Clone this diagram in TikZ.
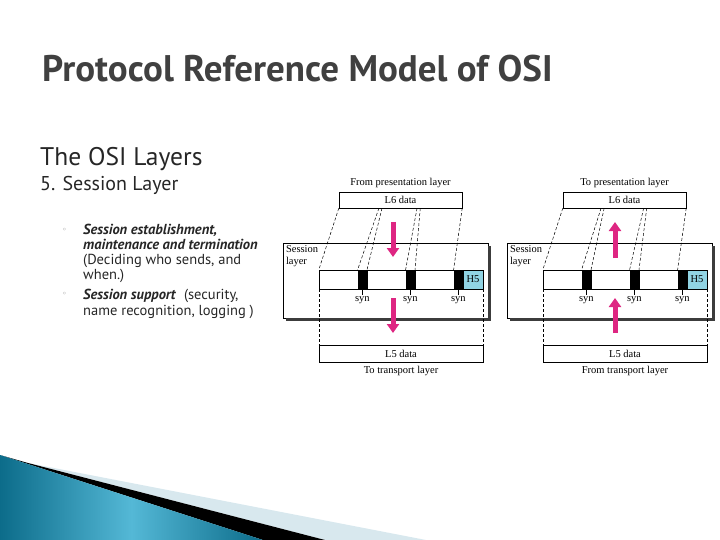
\documentclass[tikz,border=0pt]{standalone}
\usepackage{fontspec}
\usepackage{xcolor}
\usepackage{tikz}
\usetikzlibrary{arrows.meta, positioning, calc}
\newfontfamily\slidefont{PT Sans}
\newfontfamily\figfont{Liberation Serif}
\newfontfamily\bulletfont{DejaVu Sans}
\definecolor{titleGray}{RGB}{64, 64, 64}
\definecolor{arrowPink}{RGB}{222, 38, 130}
\definecolor{headerCyan}{RGB}{145, 212, 228}
\definecolor{shadowGray}{RGB}{60, 60, 60}
\definecolor{tealDark}{RGB}{12, 108, 138}
\definecolor{tealLight}{RGB}{84, 184, 214}
\definecolor{paleBlue}{RGB}{216, 232, 238}

\begin{document}
\begin{tikzpicture}[
    x=1pt, y=-1pt,
    figlabel/.style={inner sep=1pt, font=\figfont\fontsize{10.5}{11.5}\selectfont},
    databox/.style={draw, fill=white, minimum width=164pt, minimum height=17pt, inner sep=0pt, font=\figfont\fontsize{10.5}{11.5}\selectfont},
    sessbox/.style={draw, fill=white, minimum width=205pt, minimum height=75pt, inner sep=0pt},
    stripbox/.style={draw, fill=white, minimum width=164pt, minimum height=19pt, inner sep=0pt},
    hbox/.style={draw, fill=headerCyan, minimum width=20pt, minimum height=19pt, inner sep=0pt, font=\figfont\fontsize{10.5}{11.5}\selectfont},
    synblock/.style={draw, fill=black, minimum width=9pt, minimum height=19pt, inner sep=0pt},
    dashedline/.style={dashed, dash pattern=on 3pt off 2pt, line width=0.5pt},
    shadowline/.style={shadowGray, line width=2.5pt},
    pinkarrow/.style={arrowPink, line width=5pt, -{Triangle[length=9pt, width=12pt]}},
    slidetext/.style={anchor=base west, inner sep=0pt, align=left, text=black!85}
]
\useasboundingbox (0,0) rectangle (720,540);

% Corner decoration
\fill[paleBlue] (28,463) -- (426,540) -- (325,540) -- cycle;
\fill[black] (0,455) -- (28,463) -- (325,540) -- (263,540) -- cycle;
\shade[left color=tealDark, right color=tealDark, middle color=tealLight] (0,455) -- (263,540) -- (0,540) -- cycle;

% Title and text
\node[slidetext, text=titleGray, font=\slidefont\bfseries\fontsize{37}{40}\selectfont] (title) at (42,82) {Protocol Reference Model of OSI};
\node[slidetext, font=\slidefont\fontsize{25.5}{28}\selectfont] (layers) at (40,166) {The OSI Layers};
\node[slidetext, font=\slidefont\fontsize{20}{22}\selectfont] (session) at (40,191) {5. Session Layer};

% multi-line nodes are placed by the baseline of their last line
\node[slidetext, font=\bulletfont\fontsize{8}{9}\selectfont, text=gray] (bulletOne) at (62,233) {◦};
\node[slidetext, font=\slidefont\fontsize{14.5}{15}\selectfont] (itemOne) at (83,279)
    {\textbf{\textit{Session establishment,}}\\\textbf{\textit{maintenance and termination}}\\(Deciding who sends, and\\when.)};
\node[slidetext, font=\bulletfont\fontsize{8}{9}\selectfont, text=gray] (bulletTwo) at (62,296) {◦};
\node[slidetext, font=\slidefont\fontsize{14.5}{16}\selectfont] (itemTwo) at (83,315)
    {\textbf{\textit{Session support}}\ \ (security,\\name recognition, logging )};

% Sending side
\node[databox, minimum width=123pt, minimum height=16pt] (topA) at (400.5,200) {L6 data};
\node[figlabel, above=3pt of topA] (fromPres) {From presentation layer};
\node[sessbox] (sessA) at (385.5,280.5) {};
\draw[shadowline] ($(sessA.south west)+(3,1.5)$) -- ($(sessA.south east)+(1.5,1.5)$) -- ($(sessA.north east)+(1.5,3)$);
\node[figlabel, anchor=north west, align=left] (sessLabelA) at ($(sessA.north west)+(2,2)$) {Session\\layer};
\node[stripbox] (stripA) at (401,279.5) {};
\node[hbox, anchor=east] (hA) at (stripA.east) {H5};
\node[synblock] (synA1) at ($(stripA.west)+(43.5,0)$) {};
\node[synblock] (synA2) at ($(stripA.west)+(91.5,0)$) {};
\node[synblock] (synA3) at ($(stripA.west)+(139.5,0)$) {};
\node[figlabel, below=6pt of synA1] (synLabA1) {syn};
\node[figlabel, below=6pt of synA2] (synLabA2) {syn};
\node[figlabel, below=6pt of synA3] (synLabA3) {syn};
\draw (synA1.south) -- (synLabA1.north);
\draw (synA2.south) -- (synLabA2.north);
\draw (synA3.south) -- (synLabA3.north);
\node[databox] (botA) at (401,353.5) {L5 data};
\node[figlabel, below=3pt of botA] (toTrans) {To transport layer};

\draw[dashedline] (topA.south west) -- (stripA.north west);
\draw[dashedline] ($(topA.south west)!0.325!(topA.south east)$) -- (synA1.north west);
\draw[dashedline] ($(topA.south west)!0.35!(topA.south east)$) -- (synA1.north east);
\draw[dashedline] ($(topA.south west)!0.634!(topA.south east)$) -- (synA2.north west);
\draw[dashedline] ($(topA.south west)!0.66!(topA.south east)$) -- (synA2.north east);
\draw[dashedline] (topA.south east) -- (synA3.north west);
\draw[dashedline] (stripA.south west) -- (botA.north west);
\draw[dashedline] (stripA.south east) -- (botA.north east);

\coordinate (downA1) at (393,222);
\coordinate (downA2) at (393,257);
\coordinate (downA3) at (393,298);
\coordinate (downA4) at (393,333);
\draw[pinkarrow] (downA1) -- (downA2);
\draw[pinkarrow] (downA3) -- (downA4);

% Receiving side
\node[databox, minimum width=123pt, minimum height=16pt] (topB) at (624.5,200) {L6 data};
\node[figlabel, above=3pt of topB] (toPres) {To presentation layer};
\node[sessbox] (sessB) at (609.5,280.5) {};
\draw[shadowline] ($(sessB.south west)+(3,1.5)$) -- ($(sessB.south east)+(1.5,1.5)$) -- ($(sessB.north east)+(1.5,3)$);
\node[figlabel, anchor=north west, align=left] (sessLabelB) at ($(sessB.north west)+(2,2)$) {Session\\layer};
\node[stripbox] (stripB) at (625,279.5) {};
\node[hbox, anchor=east] (hB) at (stripB.east) {H5};
\node[synblock] (synB1) at ($(stripB.west)+(43.5,0)$) {};
\node[synblock] (synB2) at ($(stripB.west)+(91.5,0)$) {};
\node[synblock] (synB3) at ($(stripB.west)+(139.5,0)$) {};
\node[figlabel, below=6pt of synB1] (synLabB1) {syn};
\node[figlabel, below=6pt of synB2] (synLabB2) {syn};
\node[figlabel, below=6pt of synB3] (synLabB3) {syn};
\draw (synB1.south) -- (synLabB1.north);
\draw (synB2.south) -- (synLabB2.north);
\draw (synB3.south) -- (synLabB3.north);
\node[databox] (botB) at (625,353.5) {L5 data};
\node[figlabel, below=3pt of botB] (fromTrans) {From transport layer};

\draw[dashedline] (topB.south west) -- (stripB.north west);
\draw[dashedline] ($(topB.south west)!0.31!(topB.south east)$) -- (synB1.north west);
\draw[dashedline] ($(topB.south west)!0.335!(topB.south east)$) -- (synB1.north east);
\draw[dashedline] ($(topB.south west)!0.655!(topB.south east)$) -- (synB2.north west);
\draw[dashedline] ($(topB.south west)!0.68!(topB.south east)$) -- (synB2.north east);
\draw[dashedline] (topB.south east) -- (synB3.north west);
\draw[dashedline] (stripB.south west) -- (botB.north west);
\draw[dashedline] (stripB.south east) -- (botB.north east);

\coordinate (upB1) at (615,258);
\coordinate (upB2) at (615,222);
\coordinate (upB3) at (615,333);
\coordinate (upB4) at (615,298);
\draw[pinkarrow] (upB1) -- (upB2);
\draw[pinkarrow] (upB3) -- (upB4);

\end{tikzpicture}
\end{document}
